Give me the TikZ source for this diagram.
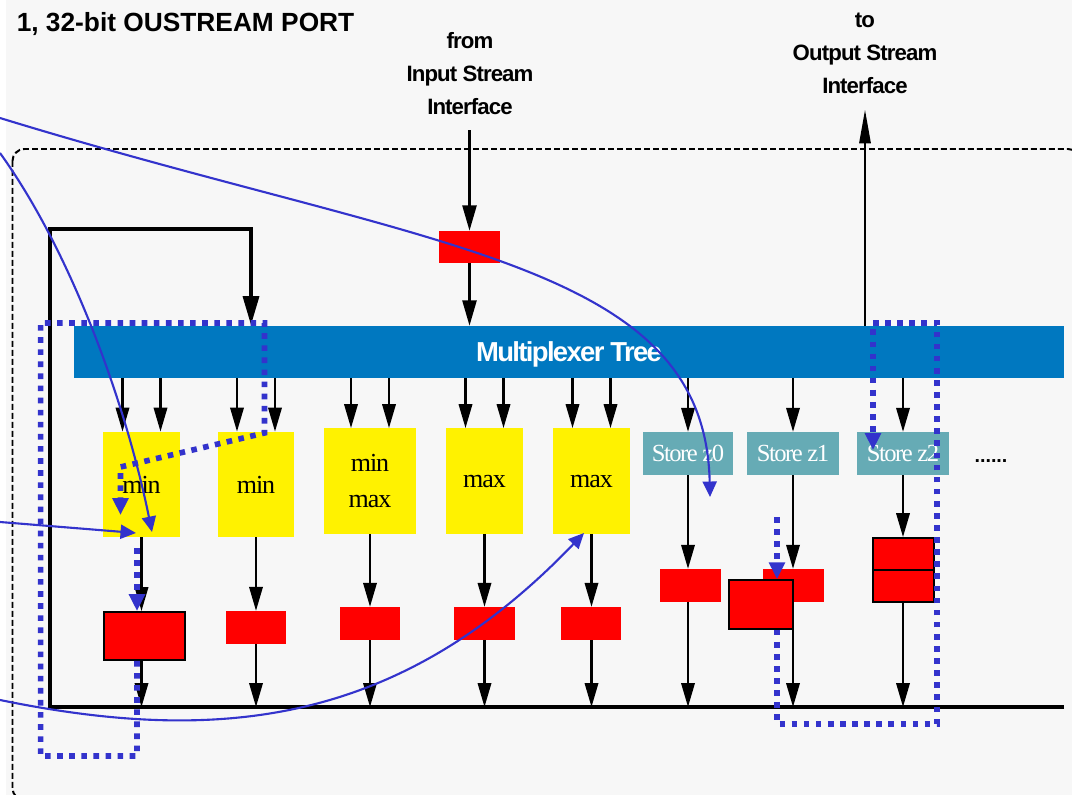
\documentclass[tikz,border=0pt]{standalone}
\usepackage{fontspec}
\setmainfont{Liberation Serif}
\newfontfamily\headfont{Liberation Sans}
\newfontfamily\portfont[LetterSpace=-4]{Liberation Sans}
\newfontfamily\muxfont[LetterSpace=-6]{Liberation Sans}
\newfontfamily\opfont[LetterSpace=-4]{Liberation Serif}
\newfontfamily\storefont[LetterSpace=-6]{Liberation Serif}
\usepackage{xcolor}
\usepackage{tikz}
\usetikzlibrary{arrows.meta,positioning,calc}

\definecolor{bgray}{RGB}{247,247,247}
\definecolor{muxblue}{RGB}{0,120,192}
\definecolor{storeteal}{RGB}{102,171,181}
\definecolor{pathblue}{RGB}{51,51,204}

\begin{document}
\begin{tikzpicture}[x=0.025cm,y=-0.025cm,
    wire/.style={line width=1.6pt,-{Triangle[length=17pt,width=9.5pt]}},
    bus/.style={line width=3.4pt},
    opbox/.style={fill=yellow,inner sep=0pt,minimum width=1.92cm,minimum height=2.63cm,align=center,
        font=\opfont\fontsize{18.5pt}{25pt}\selectfont},
    storebox/.style={fill=storeteal,inner sep=0pt,minimum width=2.25cm,minimum height=1.07cm,text=white,
        font=\storefont\fontsize{17.5pt}{20pt}\selectfont},
    regbox/.style={fill=red,inner sep=0pt,minimum width=1.52cm,minimum height=0.82cm},
    bigreg/.style={regbox,draw=black,line width=1.3pt},
    flow/.style={pathblue,line width=1.5pt,-{Triangle[length=11pt,width=10pt]}},
    route/.style={pathblue,line width=4pt,dash pattern=on 4pt off 4.6pt},
    routetip/.style={-{Triangle[length=12pt,width=11pt]}},
    portlbl/.style={align=center,font=\portfont\bfseries\fontsize{15.8pt}{23.5pt}\selectfont}]

    % Page and outer frame
    \useasboundingbox (0,0) rectangle (1072,795);
    \clip (0,0) rectangle (1072,795);
    \fill[white] (0,0) rectangle (1072,795);
    \fill[bgray] (6,0) rectangle (1072,795);
    \draw[line width=1.4pt,dash pattern=on 4.2pt off 2.2pt,rounded corners=8.5pt] (12.5,149) rectangle (1080,800);

    % Title
    \node[anchor=base west,inner sep=0pt,font=\headfont\bfseries\fontsize{18.7pt}{22pt}\selectfont] (title) at (16.5,31.7) {1, 32-bit OUSTREAM PORT};

    % Stream interfaces
    \node[portlbl] (inlbl) at (470,74) {from\\Input Stream\\Interface};
    \node[portlbl] (outlbl) at (865,53) {to\\Output Stream\\Interface};

    % Multiplexer and input register
    \node[fill=muxblue,inner sep=0pt,minimum width=24.75cm,minimum height=1.3cm,text=white,
        font=\muxfont\bfseries\fontsize{19.5pt}{22pt}\selectfont,text height=14pt,text depth=0pt] (mux) at (569,352) {Multiplexer Tree};
    \node[regbox,minimum height=0.8cm] (inreg) at (469.5,247) {};

    % Operators
    \node[opbox] (op1) at (141.5,484.5) {min};
    \node[opbox] (op2) at (256,484.5) {min};
    \node[opbox,minimum width=2.3cm] (op3) at (370,481) {min\\max};
    \node[opbox] (op4) at (484.5,481) {max};
    \node[opbox] (op5) at (591.5,481) {max};

    % Stores
    \node[storebox] (z0) at (688,453.5) {Store z0};
    \node[storebox,minimum width=2.3cm] (z1) at (793,453.5) {Store z1};
    \node[storebox,minimum width=2.3cm] (z2) at (903,453.5) {Store z2};
    \node[font=\headfont\bfseries\fontsize{14pt}{16pt}\selectfont] (more) at (991,461) {......};

    % Registers
    \node[bigreg,minimum width=2.02cm,minimum height=1.2cm] (r1) at (144.5,636) {};
    \node[regbox] (r2) at (256,627.5) {};
    \node[regbox] (r3) at (370,623.5) {};
    \node[regbox] (r4) at (484.5,623.5) {};
    \node[regbox] (r5) at (591,623.5) {};
    \node[regbox] (rz0) at (690.5,585.5) {};
    \node[regbox] (rz1) at (793.5,585.5) {};
    \node[bigreg,minimum width=1.6cm,minimum height=1.22cm] (rz1b) at (761,604.5) {};
    \node[bigreg,minimum height=1.6cm] (rz2) at (903.5,570) {};
    \draw[line width=1.3pt] (rz2.west) -- (rz2.east);

    % Result bus with feedback into the tree
    \coordinate (busL) at (50,707);
    \coordinate (busR) at (1064,707);
    \coordinate (fbtop) at (251,229);
    \draw[bus,-{Triangle[length=21pt,width=11pt]}] (busR) -- (busL) |- (fbtop) -- (fbtop |- mux.north);

    % Stream in and out
    \draw[wire,-{Triangle[length=18pt,width=10pt]},shorten <=7pt] (inreg.north |- inlbl.south) -- (inreg.north);
    \draw[wire,-{Triangle[length=18pt,width=10pt]}] (inreg.south) -- (inreg.south |- mux.north);
    \draw[wire,-{Triangle[length=24pt,width=8pt]},shorten >=8pt] (outlbl.south |- mux.north) -- (outlbl.south);

    % Tree outputs
    \foreach \b in {op1,op2,op3,op4,op5} {
        \foreach \dx in {-19,19} {
            \coordinate (tap) at ($(\b.north)+(\dx,0)$);
            \draw[wire] (tap |- mux.south) -- (tap);
        }
    }
    \foreach \s in {z0,z1,z2}
        \draw[wire] (\s.north |- mux.south) -- (\s.north);

    % Through the registers onto the bus
    \foreach \b/\r in {op1/r1,op2/r2,op3/r3,op4/r4,op5/r5,z0/rz0,z1/rz1,z2/rz2} {
        \draw[wire] (\b.south) -- (\b.south |- \r.north);
        \draw[wire] (\b.south |- \r.south) -- (\b.south |- busL);
    }

    % Dotted routes
    \coordinate (d1) at (137,548);
    \coordinate (d2) at (40.6,756);
    \coordinate (d3) at (264.5,323);
    \coordinate (d4) at (264.5,433);
    \coordinate (d5) at (120.5,467);
    \coordinate (d6) at (120.5,515);
    \draw[route,routetip] (d1) -- (d1 |- r1.north);
    \draw[route,routetip] (d1 |- r1.south) |- (d2) |- (d3) -- (d4) -- (d5) -- (d6);

    \coordinate (e1) at (777,517);
    \coordinate (e2) at (937,724);
    \coordinate (e3) at (873,323);
    \coordinate (e4) at (873,450);
    \draw[route,routetip] (e1) -- (e1 |- rz1b.north);
    \draw[route,routetip] (e1 |- rz1b.south) |- (e2) |- (e3) -- (e4);

    % Blue flows
    \coordinate (f1s) at (0,118);
    \coordinate (f1e) at (710,497);
    \coordinate (f2s) at (0,153);
    \coordinate (f2e) at (152,532);
    \coordinate (f3s) at (0,522);
    \coordinate (f3e) at (136,533);
    \coordinate (f4s) at (0,700);
    \coordinate (f4e) at (584,533);
    \draw[flow] (f1s) .. controls (430,250) and (705,260) .. (f1e);
    \draw[flow] (f2s) .. controls (70,250) and (125,400) .. (f2e);
    \draw[flow] (f3s) -- (f3e);
    \draw[flow] (f4s) .. controls (220,745) and (400,725) .. (f4e);
\end{tikzpicture}
\end{document}
